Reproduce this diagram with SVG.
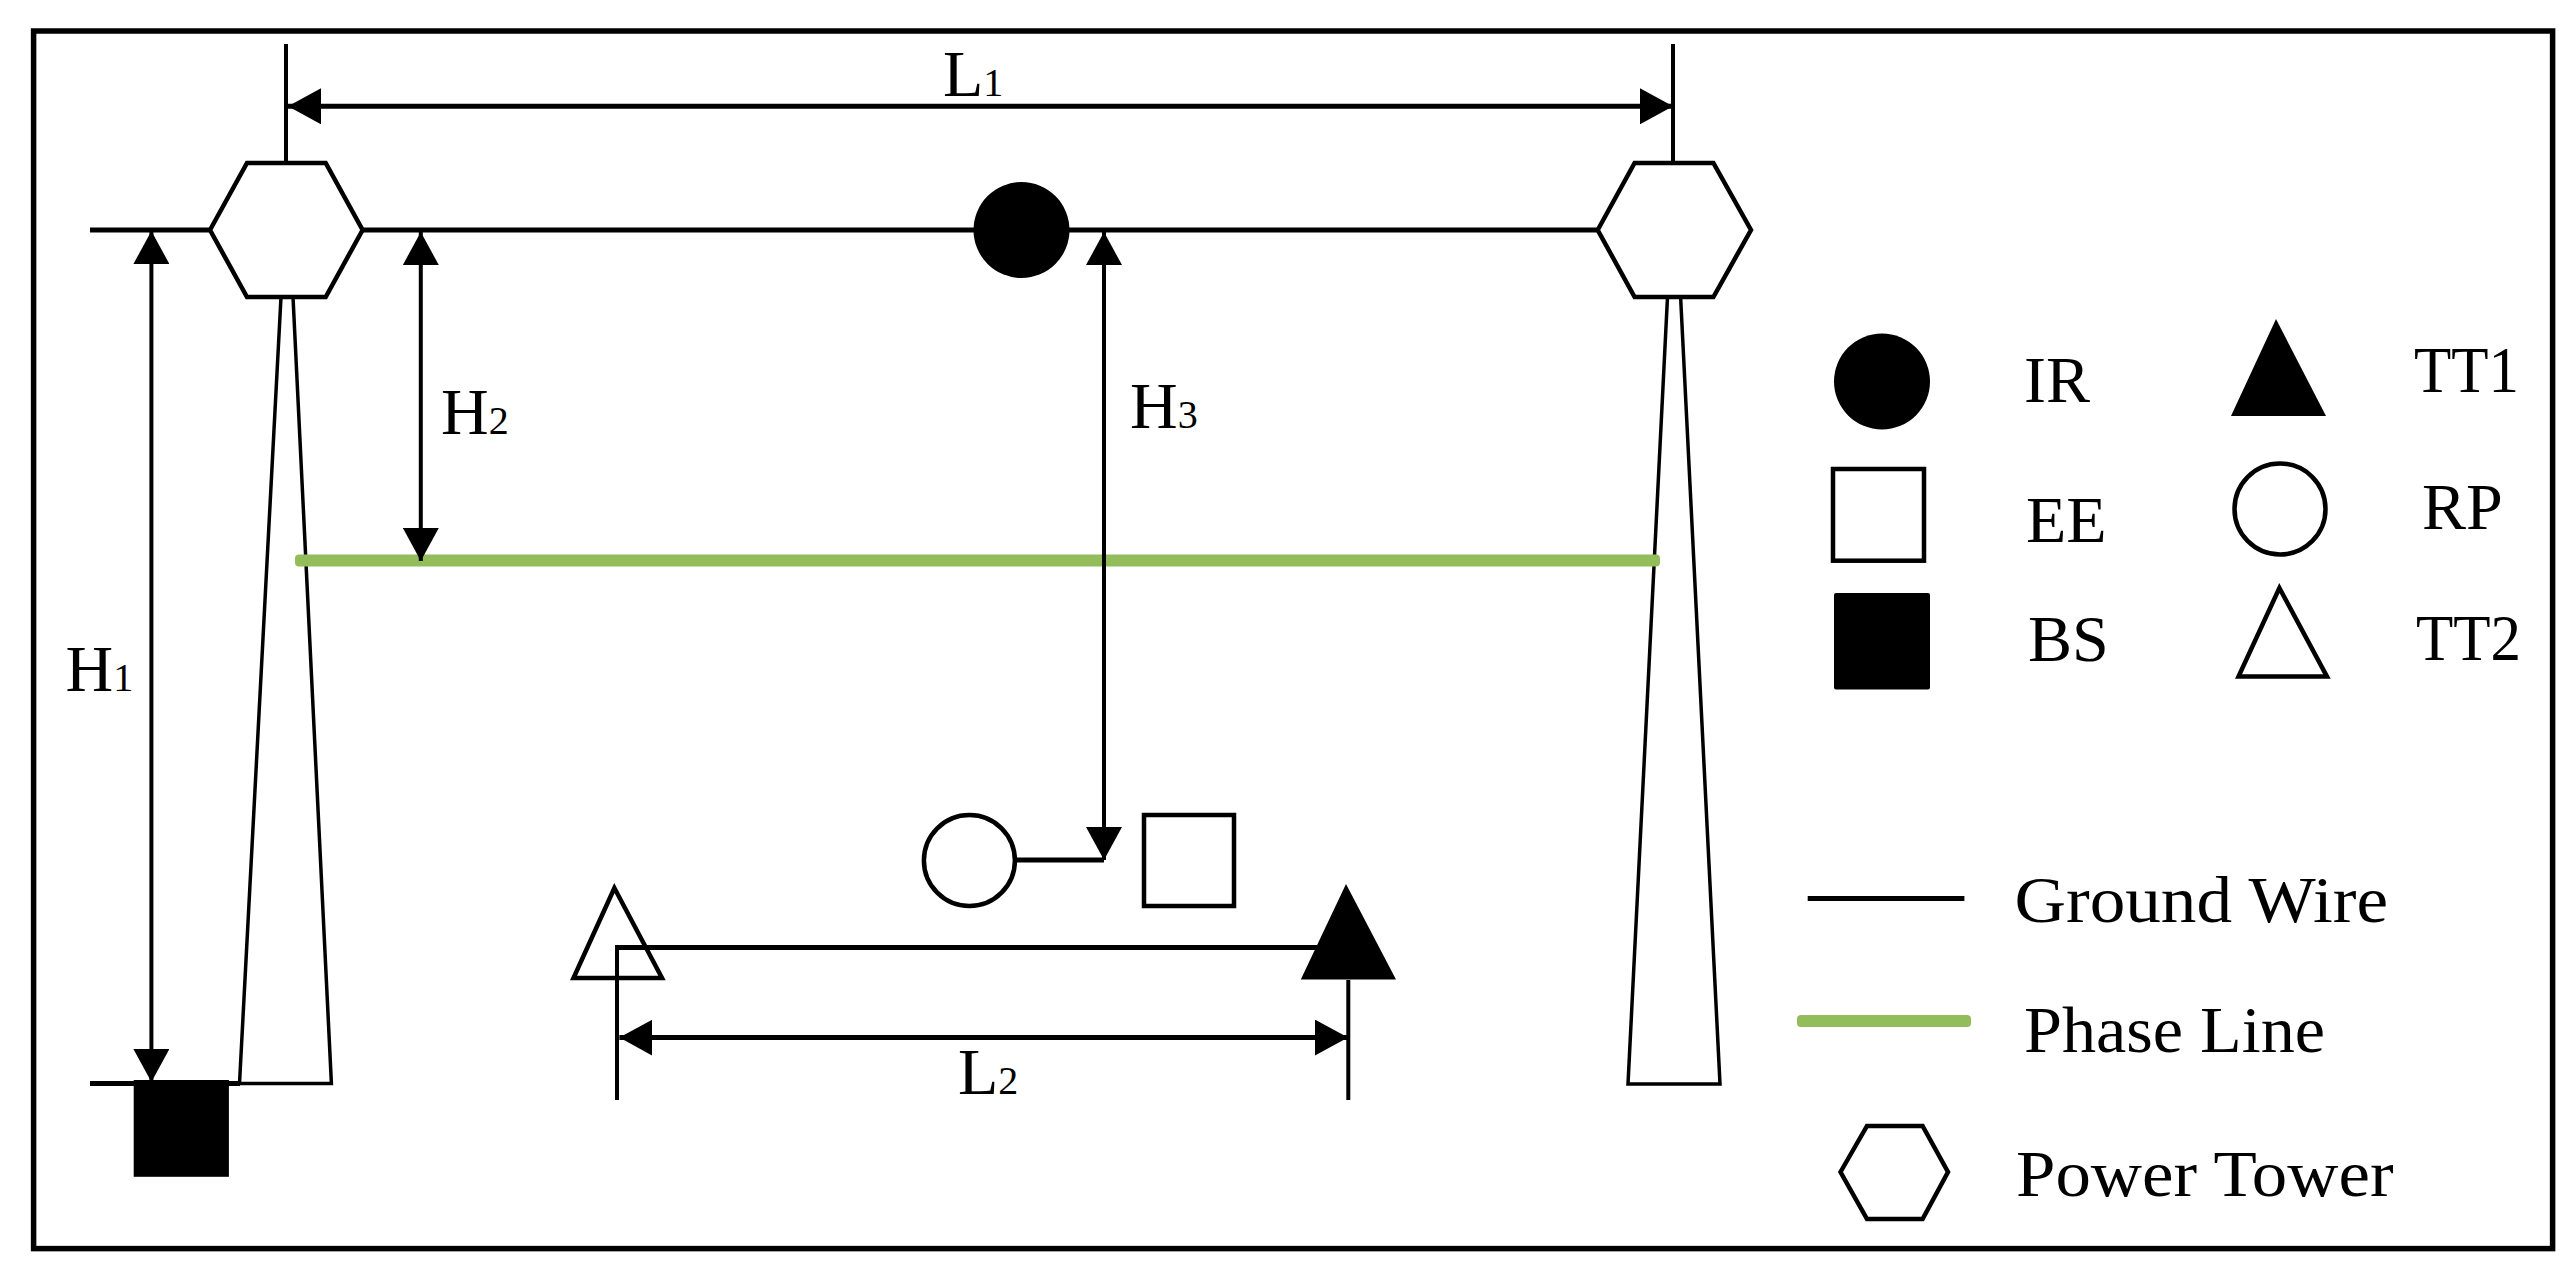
<svg xmlns="http://www.w3.org/2000/svg" width="2572" height="1272" viewBox="0 0 2572 1272">
<defs>
<style>
text{font-family:"Liberation Serif","Times New Roman",serif;font-size:66px;fill:#000}
.sub{font-size:40px}
.s{fill:none;stroke:#000;stroke-width:4.5}
.h{fill:none;stroke:#000;stroke-width:5}
.v{fill:none;stroke:#000;stroke-width:4}
.w{fill:#fff;stroke:#000;stroke-width:4.5}
.k{fill:#000}
.t{fill:none;stroke:#000;stroke-width:3.5}
.p{fill:#92bd5a}
</style>
<marker id="a" viewBox="0 0 33 36" refX="33" refY="18" markerWidth="33" markerHeight="36" markerUnits="userSpaceOnUse" orient="auto-start-reverse"><path d="M0 0L33 18L0 36Z" fill="#000"/></marker>
</defs>
<rect width="2572" height="1272" fill="#fff"/>
<rect id="frame" x="33.6" y="31" width="2519" height="1217.6" fill="none" stroke="#000" stroke-width="5.5"/>
<g id="connectors">
<path class="v" d="M286 44V163M1673 44V163M617 947.6V1100M1348.3 980V1100"/>
<path class="h" d="M90 230H1598M90 1083.5H240M1015 860H1104M615 947.6H1325"/>
<path class="t" d="M281 297L239.5 1083.5H331.4L293 297M1667.5 297L1628 1084H1720L1680.6 297"/>
<rect class="p" x="295" y="554.6" width="1365" height="12" rx="4"/>
<line class="h" x1="288" y1="106.3" x2="1673" y2="106.3" marker-start="url(#a)" marker-end="url(#a)"/>
<line class="v" x1="151.4" y1="231" x2="151.4" y2="1082" marker-start="url(#a)" marker-end="url(#a)"/>
<line class="v" x1="420.8" y1="232" x2="420.8" y2="561" marker-start="url(#a)" marker-end="url(#a)"/>
<line class="v" x1="1104" y1="232" x2="1104" y2="860" marker-start="url(#a)" marker-end="url(#a)"/>
<line class="h" x1="619.4" y1="1037.6" x2="1348" y2="1037.6" marker-start="url(#a)" marker-end="url(#a)"/>
</g>
<g id="tower-1"><path class="w" d="M210 230L247 163H325.7L362.6 230L325.7 297H247Z"/></g>
<g id="tower-2"><path class="w" d="M1597.7 230L1634.6 163H1713.4L1751 230L1713.4 297H1634.6Z"/></g>
<g id="ir"><circle class="k" cx="1021.5" cy="230" r="48"/></g>
<g id="bs"><rect class="k" x="133.7" y="1080" width="95.2" height="96.8"/></g>
<g id="rp"><circle class="w" cx="969.4" cy="860.5" r="45.5"/></g>
<g id="ee"><rect class="w" x="1144" y="815" width="90" height="91"/></g>
<g id="tt2"><path class="s" d="M614.4 888L573.5 978H662Z"/></g>
<g id="tt1"><path class="k" d="M1346 884L1396 979.6H1300.8Z"/></g>
<g id="labels">
<text x="943" y="96">L<tspan class="sub">1</tspan></text>
<text x="65.6" y="691">H<tspan class="sub">1</tspan></text>
<text x="441" y="434">H<tspan class="sub">2</tspan></text>
<text x="1130" y="428">H<tspan class="sub">3</tspan></text>
<text x="958" y="1094">L<tspan class="sub">2</tspan></text>
</g>
<g id="legend-ir"><circle class="k" cx="1882" cy="381.5" r="48"/><text x="2024" y="401.6">IR</text></g>
<g id="legend-tt1"><path class="k" d="M2276 319L2326 416H2231Z"/><text x="2414" y="391.5" textLength="105" lengthAdjust="spacingAndGlyphs">TT1</text></g>
<g id="legend-ee"><rect class="w" x="1833" y="469" width="91" height="91.7"/><text x="2026" y="542">EE</text></g>
<g id="legend-rp"><circle class="w" cx="2280" cy="509" r="45.5"/><text x="2422" y="529.4">RP</text></g>
<g id="legend-bs"><rect class="k" x="1834" y="593" width="96" height="96.5" rx="2"/><text x="2028" y="661">BS</text></g>
<g id="legend-tt2"><path class="s" d="M2279.4 588L2238.5 676.6H2327Z"/><text x="2416" y="660" textLength="105" lengthAdjust="spacingAndGlyphs">TT2</text></g>
<g id="legend-ground"><line class="h" x1="1807.7" y1="898.5" x2="1964.4" y2="898.5"/><text x="2014.5" y="922" textLength="373.5" lengthAdjust="spacingAndGlyphs">Ground Wire</text></g>
<g id="legend-phase"><rect class="p" x="1797" y="1015" width="174" height="12" rx="4"/><text x="2024" y="1052" textLength="301" lengthAdjust="spacingAndGlyphs">Phase Line</text></g>
<g id="legend-tower"><path class="w" d="M1840.5 1172L1867 1126H1922.6L1948 1172L1922.6 1219H1867Z"/><text x="2016" y="1196" textLength="377.5" lengthAdjust="spacingAndGlyphs">Power Tower</text></g>
</svg>
